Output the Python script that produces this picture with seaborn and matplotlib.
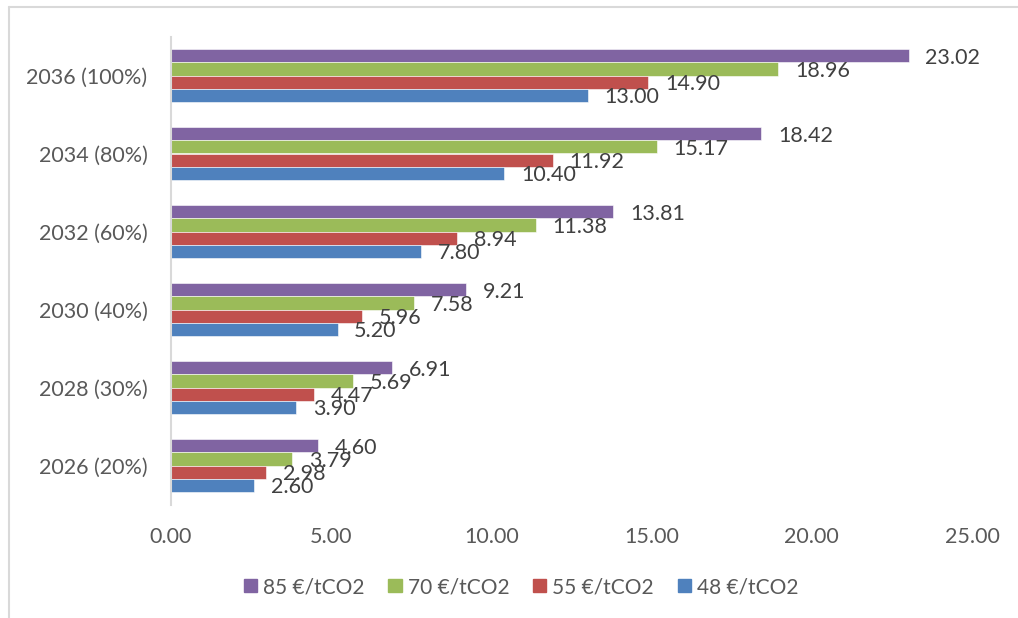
import pandas as pd
import matplotlib
matplotlib.use("Agg")
import matplotlib.pyplot as plt
import seaborn as sns
from matplotlib.lines import Line2D

# 데이터 (위에서 아래 순서)
years = ["2036 (100%)", "2034 (80%)", "2032 (60%)", "2030 (40%)", "2028 (30%)", "2026 (20%)"]
series = ["85 €/tCO2", "70 €/tCO2", "55 €/tCO2", "48 €/tCO2"]
v85 = [23.02, 18.42, 13.81, 9.21, 6.91, 4.60]
v70 = [18.96, 15.17, 11.38, 7.58, 5.69, 3.79]
v55 = [14.90, 11.92, 8.94, 5.96, 4.47, 2.98]
v48 = [13.00, 10.40, 7.80, 5.20, 3.90, 2.60]
colors = ["#8064A2", "#9BBB59", "#C0504D", "#4F81BD"]

rows = []
for name, vals in zip(series, [v85, v70, v55, v48]):
    for y, v in zip(years, vals):
        rows.append({"year": y, "price": name, "value": v})
df = pd.DataFrame(rows)

sns.set_style("white")
plt.rcParams["font.family"] = ["Lato", "DejaVu Sans"]

fig = plt.figure(figsize=(10.18, 6.18), dpi=100)
ax = fig.add_axes([171 / 1018, 1 - 504.5 / 618, (972 - 171) / 1018, (504.5 - 36.5) / 618])

sns.barplot(data=df, x="value", y="year", hue="price", order=years, hue_order=series,
            palette=colors, orient="h", width=0.667, saturation=1, ax=ax,
            edgecolor="white", linewidth=0.4)

# 막대 끝 값 라벨 (엑셀처럼 약간 아래로)
for cont in ax.containers:
    anns = ax.bar_label(cont, fmt="%.2f", padding=12, fontsize=15.5, color="#404040")
    for a in anns:
        a.xyann = (a.xyann[0], -1.5)

ax.set_xlim(0, 25)
ax.set_xticks([0, 5, 10, 15, 20, 25])
ax.set_xticklabels([f"{t:.2f}" for t in [0, 5, 10, 15, 20, 25]])
ax.tick_params(axis="both", length=0, labelsize=15.5, labelcolor="#595959")
ax.tick_params(axis="x", pad=16)
ax.tick_params(axis="y", pad=17)
ax.set_xlabel("")
ax.set_ylabel("")
for s in ["top", "right", "bottom"]:
    ax.spines[s].set_visible(False)
ax.spines["left"].set_color("#D9D9D9")
ax.spines["left"].set_linewidth(1.5)

handles = [plt.Rectangle((0, 0), 1, 1, color=c) for c in colors]
ax.legend_.remove()
fig.legend(handles, series, loc="center left", bbox_to_anchor=(225 / 1018, 1 - 587 / 618),
           ncol=4, frameon=False, fontsize=15, labelcolor="#595959",
           handlelength=0.63, handleheight=0.63, handletextpad=0.29, columnspacing=1.15)

# 차트 영역 테두리
fig.add_artist(Line2D([8.5 / 1018, 8.5 / 1018], [0, 1 - 7 / 618], transform=fig.transFigure,
                      color="#D9D9D9", lw=1.5))
fig.add_artist(Line2D([8.5 / 1018, 1], [1 - 7 / 618, 1 - 7 / 618], transform=fig.transFigure,
                      color="#D9D9D9", lw=1.5))

fig.savefig("out.png", dpi=100)
